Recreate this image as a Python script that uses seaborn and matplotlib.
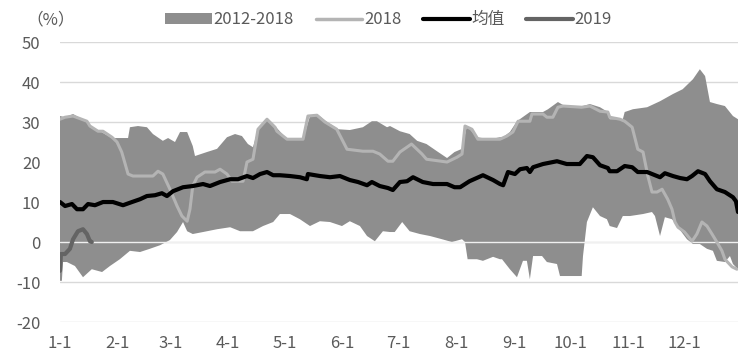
import numpy as np
import matplotlib
matplotlib.use("Agg")
import matplotlib.pyplot as plt
from matplotlib.patches import Patch
from matplotlib.lines import Line2D
import seaborn as sns

# === 数据（横轴为一年中的第几天）===
month_days = [0, 31, 59, 90, 120, 151, 181, 212, 243, 273, 304, 334]
month_labels = ["1-1", "2-1", "3-1", "4-1", "5-1", "6-1", "7-1", "8-1", "9-1", "10-1", "11-1", "12-1"]

# 2012-2018 区间上沿
upper_day = [0, 2.7, 7, 14.4, 16, 21.4, 27.8, 36.4, 37.4, 41.7, 46.5, 49.7, 55, 57.8, 61.5, 64.2, 68, 71, 72.2,
             78.6, 84, 89.3, 93.6, 97.3, 100.5, 103.2, 105.9, 110.7, 115, 121.4, 130, 133.7, 137.4, 142.8, 148.7,
             155, 162, 166.8, 169.5, 174.9, 176.5, 181.8, 187, 191, 196, 201.6, 207, 211, 215, 217.6, 223, 230,
             235.3, 237, 240.6, 244.4, 251.3, 258.3, 261, 266.3, 270, 279.7, 283.4, 288.8, 293, 294, 301, 302,
             306.4, 314, 320.9, 327.8, 333, 338.5, 342.2, 345, 347.6, 351.3, 355.6, 359.9, 362.6]
upper_val = [31.5, 31.2, 32, 30, 29, 27.7, 26, 26, 28.7, 29, 28.7, 27, 25.3, 26, 25, 27.5, 27.5, 24, 21.5,
             22.5, 23.3, 26.2, 27, 26.5, 24.5, 23.7, 28.2, 30.7, 29, 25.7, 25.7, 31.5, 32, 30, 28.2,
             28, 28.7, 30.2, 30.2, 28.7, 29, 27.7, 27, 25.3, 24.5, 22.7, 21, 22.5, 23.3, 29, 26.2, 25.7,
             26.2, 26.2, 27.5, 30.2, 32.5, 32.5, 33.2, 35, 34, 34, 34.5, 33.7, 32.5, 30.7, 30.7, 32.5,
             33.2, 33.7, 35.2, 37, 38.2, 40.7, 43.2, 41.5, 35, 34.5, 34, 31.5, 30.7]

# 2012-2018 区间下沿
lower_day = [0, 1, 1.6, 3.7, 8, 12.3, 17, 22.5, 26.7, 32, 37.4, 42.8, 48, 53.5, 58.8, 62.6, 65.8, 68, 71, 76.5,
             84, 91, 96.3, 103.2, 108.6, 114, 117.6, 123, 128.3, 133.7, 139, 144.4, 150.8, 155, 160.4, 164.2,
             168.4, 172.7, 176.5, 179, 183, 187, 192.5, 197.9, 204.3, 209.6, 215, 216.6, 218, 223, 226.2, 231.6,
             235.3, 236.4, 240.6, 244.4, 247.6, 249.7, 251.3, 253, 257.8, 260.4, 265.8, 267.4, 279, 279.7, 281.8,
             285, 288.8, 292.5, 294, 297.9, 301, 304.8, 311.8, 316.6, 318.2, 320.9, 323.5, 327.3, 330, 335.3,
             338.5, 342.2, 346, 349.2, 351.3, 355.6, 358.3, 359.9, 362.6]
lower_val = [-9.7, -9.7, -5, -5, -6, -8.8, -6.8, -7.5, -6, -4.3, -2.2, -2.5, -1.7, -0.8, 0.5, 2.5, 5, 2.7, 2, 2.5,
             3.2, 3.7, 2.7, 2.7, 4, 5, 7, 7, 5.7, 4, 5.2, 5, 4, 5.2, 4, 1.5,
             0.2, 2.7, 2.5, 2.5, 5, 2.7, 2, 1.5, 0.7, 0, 0.7, 0, -4.3, -4.3, -4.7, -3.7,
             -4.3, -4.3, -6.8, -8.8, -4.7, -4.7, -9.3, -3.5, -3.5, -5, -5.5, -8.5, -8.5, -3.5, 5,
             8.7, 6.5, 5.7, 4, 3.5, 6.5, 6.5, 7, 7.5, 6.5, 1.5, 6.2, 5.7, 4, 0.7,
             -0.5, -0.5, -1.7, -2.2, -4.7, -5, -3.5, -5.5, -6.8]

# 2018
y2018_day = [0, 2.7, 7, 14.4, 16, 20.3, 23, 27.8, 30.5, 33, 36.4, 39, 49.7, 52.4, 55, 58.8, 62.6, 65.2, 68, 69.5,
             71, 73.3, 77.5, 82.9, 85.6, 89.3, 92, 97.9, 100, 103.2, 105.9, 110.7, 115, 116, 121.4, 130, 132.6,
             137.4, 141.7, 148, 153.5, 162, 167.4, 171, 175.4, 178, 181.8, 188, 193.6, 196, 207, 212.3, 215,
             216.6, 220.3, 223.5, 235.3, 239, 242.2, 245, 251.3, 252.4, 258.3, 260.4, 263.6, 266.3, 269, 279,
             283.4, 288.8, 293, 294, 299.5, 302, 306, 309, 311.8, 314.4, 316.6, 319.3, 322, 325, 327.3, 328.9,
             330.5, 334, 338, 340.6, 343.3, 346, 348.7, 351.3, 354, 355.6, 359.4, 362]
y2018_val = [30.7, 31.2, 31.5, 30.2, 29, 27.7, 27.7, 26.2, 25, 22.5, 17, 16.5, 16.5, 17.7, 17, 13.2, 9, 6.5, 5.2, 8.2,
             14, 16.2, 17.5, 17.5, 18.2, 17, 15.2, 15.2, 20, 20.7, 28.2, 30.7, 28.7, 27.7, 25.7, 25.7, 31.5,
             31.7, 30, 28.2, 23.2, 22.7, 22.7, 22, 20.2, 20.2, 22.5, 24.5, 22, 20.7, 20, 21.2, 22,
             29, 28.2, 25.7, 25.7, 26.5, 27.5, 30.2, 30.2, 32, 32, 31.2, 31.2, 33.7, 34, 33.7,
             34, 32.7, 32.5, 31.2, 30.7, 30.2, 28.7, 23.2, 22.5, 16.5, 12.5, 12.5, 13.2, 10.7, 8.2, 5,
             3.7, 2.5, 0.2, 2, 5, 4, 2, 0, -2.2, -4.3, -6.2, -6.8]

# 均值
mean_day = [0, 2.7, 6.4, 9.1, 12.3, 15, 18.7, 23, 28.3, 33.7, 38.5, 42.8, 46.5, 50.8, 54.5, 57.2, 60.4, 65.8, 71,
            76.5, 80.2, 85.6, 91, 95.2, 100, 103.2, 107, 110.7, 114, 117.6, 123, 128.3, 132, 132.6, 139, 144.4,
            149.7, 155, 159.4, 164.2, 166.8, 171, 175.4, 178, 181.8, 185.6, 188.8, 194, 199.5, 207, 211, 214,
            219, 226.2, 231.6, 235.3, 237, 239.6, 243.3, 246, 249.7, 251.3, 253, 258.3, 265.8, 271, 278, 281.8,
            285, 288.8, 293, 294, 297.9, 302, 306, 309, 314, 320.9, 323.5, 327.8, 331.6, 335.3, 338, 341.2,
            345, 347.6, 351.3, 355.6, 359.9, 361.5, 362.6]
mean_val = [10, 9, 9.5, 8.2, 8.2, 9.5, 9.2, 10, 10, 9.2, 10, 10.7, 11.5, 11.7, 12.2, 11.5, 12.7, 13.7, 14,
            14.5, 14, 15, 15.7, 15.7, 16.5, 16, 17, 17.5, 16.7, 16.7, 16.5, 16.2, 15.7, 17, 16.5, 16.2,
            16.5, 15.5, 15, 14.2, 15, 14, 13.5, 13, 15, 15.2, 16.2, 15, 14.5, 14.5, 13.7, 13.7,
            15.2, 16.7, 15.5, 14.5, 14.2, 17.5, 17, 18.2, 18.5, 17.5, 18.7, 19.5, 20.2, 19.5, 19.5, 21.5,
            21.2, 19.2, 18.5, 17.7, 17.7, 19, 18.7, 17.5, 17.5, 16.2, 17.2, 16.5, 16, 15.7, 16.5, 17.7,
            17, 15.2, 13.2, 12.5, 11.2, 10.2, 7.5]

# 2019
y2019_day = [0, 0.5, 2.7, 5.3, 7, 9.6, 12.3, 14.4, 16, 17]
y2019_val = [-7.2, -3, -3, -1.7, 0.7, 2.7, 3.2, 2, 0.2, 0]

# === 样式 ===
sns.set_theme(style="white")
plt.rcParams['font.family'] = ['Noto Sans CJK SC', 'DejaVu Sans']
plt.rcParams['axes.unicode_minus'] = False

band_color = "#8e8e8e"
c2018 = "#b4b4b4"
c2019 = "#646464"
text_color = "#5a5a5a"

fig = plt.figure(figsize=(7.5, 3.63), dpi=100)
ax = fig.add_axes([0.08, 0.1129, 0.904, 0.7713])

# 区间（上沿 + 反向下沿 组成多边形）
ax.fill(np.r_[upper_day, lower_day[::-1]], np.r_[upper_val, lower_val[::-1]],
        color=band_color, lw=0, zorder=2)
ax.axhline(0, color="#f0f0f0", lw=1, zorder=3)

sns.lineplot(x=y2018_day, y=y2018_val, ax=ax, color=c2018, lw=2.2, sort=False, estimator=None, zorder=4)
sns.lineplot(x=mean_day, y=mean_val, ax=ax, color="black", lw=3, sort=False, estimator=None, zorder=5)
sns.lineplot(x=y2019_day, y=y2019_val, ax=ax, color=c2019, lw=3, sort=False, estimator=None, zorder=6)

ax.set_xlim(0, 362.6)
ax.set_ylim(-20, 50)
ax.set_yticks(range(-20, 51, 10))
ax.set_xticks(month_days)
ax.set_xticklabels(month_labels)
ax.grid(axis="y", color="#d9d9d9", lw=1, zorder=0)
ax.set_axisbelow(True)
for sp in ax.spines.values():
    sp.set_visible(False)
ax.tick_params(axis="both", length=0, labelsize=12, colors=text_color)
ax.tick_params(axis="y", pad=14)
ax.tick_params(axis="x", pad=9)
ax.set_xlabel("")
ax.set_ylabel("")

fig.text(0.035, 0.945, "（%）", fontsize=12, color=text_color, va="center", ha="left")

handles = [Patch(facecolor=band_color, edgecolor="none"),
           Line2D([], [], color=c2018, lw=2.5),
           Line2D([], [], color="black", lw=3),
           Line2D([], [], color=c2019, lw=3)]
fig.legend(handles, ["2012-2018", "2018", "均值", "2019"], loc="center",
           bbox_to_anchor=(0.518, 0.945), ncol=4, frameon=False, fontsize=12,
           handlelength=2.8, handletextpad=0.1, columnspacing=1.3,
           labelcolor=text_color, handleheight=0.6)

fig.savefig("out.png", dpi=100)
